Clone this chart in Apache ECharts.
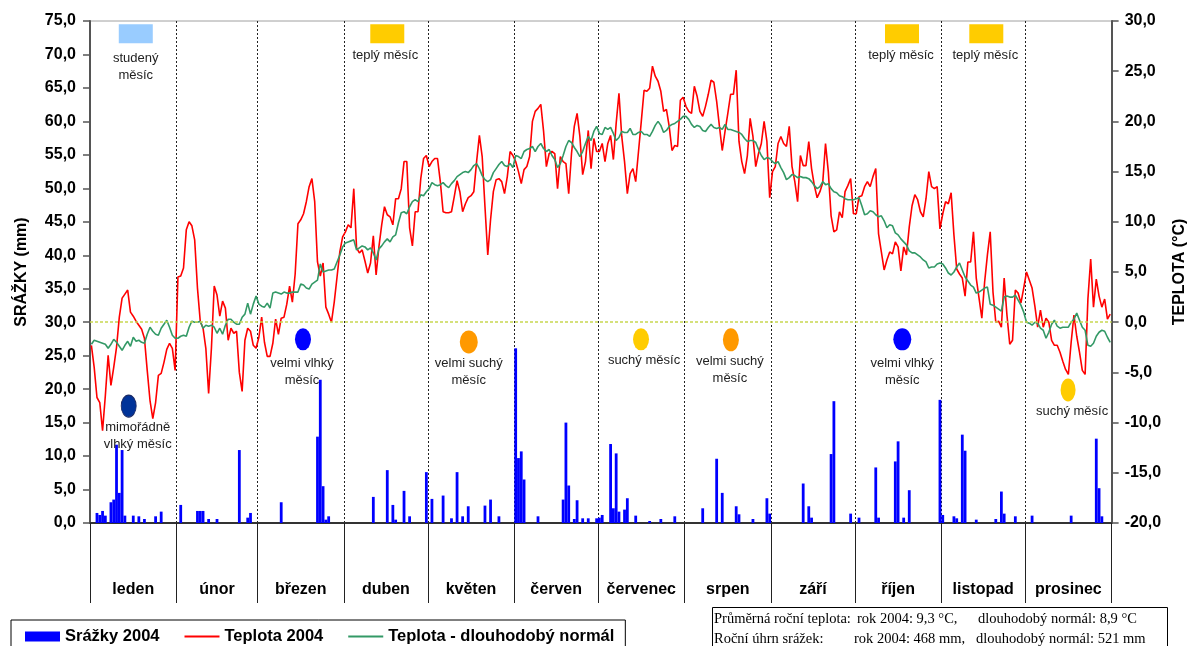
<!DOCTYPE html>
<html><head><meta charset="utf-8">
<script src="https://cdn.jsdelivr.net/npm/echarts@6/dist/echarts.min.js"></script>
<style>html,body{margin:0;padding:0;background:#fff}#c{width:1196px;height:646px}</style>
</head><body><div id="c"></div>
<script>
const monthNames = ['leden','únor','březen','duben','květen','červen','červenec','srpen','září','říjen','listopad','prosinec'];
const monthDays = [31,29,31,30,31,30,31,31,30,31,30,31];

// Daily precipitation 2004 (mm), one list per month
const precip2004 = [
 [0,0,1.5,1.2,1.8,1.1,0,3.1,3.5,11.7,4.5,10.9,1.1,0,0,1.1,0,1.0,0,0.6,0,0,0,1.0,0,1.7,0,0,0,0,0],
 [0,2.7,0,0,0,0,0,1.8,1.8,1.8,0,0.6,0,0,0.6,0,0,0,0,0,0,0,10.9,0,0,0.8,1.5,0,0],
 [0,0,0,0,0,0,0,0,3.1,0,0,0,0,0,0,0,0,0,0,0,0,12.9,21.4,5.5,0.5,1.0,0,0,0,0,0],
 [0,0,0,0,0,0,0,0,0,0,3.9,0,0,0,0,7.9,0,2.7,0.5,0,0,4.8,0,1.0,0,0,0,0,0,7.6],
 [0,3.6,0,0,0,4.1,0,0,0.7,0,7.6,0,1.0,0,2.5,0,0,0,0,0,2.6,0,3.5,0,0,1.0,0,0,0,0,0],
 [26.1,9.7,10.7,6.5,0,0,0,0,1.0,0,0,0,0,0,0,0,0,3.5,15.0,5.6,0,0.6,3.4,0,0.7,0,0.7,0,0,0.7],
 [0.8,1.2,0,0,11.8,2.2,10.4,1.7,0,2.0,3.7,0,0,1.1,0,0,0,0,0.3,0,0,0,0.6,0,0,0,0,1.0,0,0,0],
 [0,0,0,0,0,0,2.2,0,0,0,0,9.6,0,4.5,0,0,0,0,2.5,1.3,0,0,0,0,0.6,0,0,0,0,3.7,1.4],
 [0,0,0,0,0,0,0,0,0,0,0,5.9,0,2.5,0.8,0,0,0,0,0,0,10.3,18.2,0,0,0,0,0,1.4,0],
 [0,0.8,0,0,0,0,0,8.3,0.8,0,0,0,0,0,9.2,12.2,0,0.8,0,4.9,0,0,0,0,0,0,0,0,0,0,18.4],
 [1.2,0,0,0,1.0,0.7,0,13.2,10.8,0,0,0,0.5,0,0,0,0,0,0,0.6,0,4.7,1.4,0,0,0,1.0,0,0,0],
 [0,0,1.1,0,0,0,0,0,0,0,0,0,0,0,0,0,1.1,0,0,0,0,0,0,0,0,12.6,5.2,1.0,0,0,0]
];

// Daily mean temperature 2004 (°C)
const temp2004 = [
 [-2.3,-4.5,-7.5,-8.0,-10.8,-7.3,-3.3,-6.3,-4.5,-2.5,0.5,2.4,2.8,3.2,1.0,0.6,0.1,-0.3,-0.7,-1.6,-4.8,-7.8,-9.6,-8.0,-5.3,-5.1,-4.0,-2.7,-2.1,-2.6,-4.8],
 [4.5,4.6,5.4,9.2,10.0,9.6,8.2,3.4,0.1,-0.6,-2.6,-7.1,-2.6,3.6,2.7,0.6,2.1,1.4,-1.8,-0.6,-1.1,-0.9,-5.0,-6.9,-1.8,-0.6,-0.9,-2.3,-2.6],
 [-1.5,0.5,-2.0,-3.4,-3.4,-2.1,0.3,-1.2,0.4,0.5,1.8,3.6,2.0,4.8,9.8,10.2,10.8,12.0,13.5,14.3,12.0,6.0,4.6,5.9,1.5,0.8,0.0,2.0,4.5,7.0,8.5],
 [9.0,9.7,9.4,13.3,7.4,6.9,7.2,6.1,4.9,5.9,8.6,4.7,7.5,9.7,11.5,10.7,10.5,9.7,12.3,12.3,13.3,16.0,16.0,9.4,7.6,11.0,11.0,14.3,16.3,16.6],
 [15.5,16.0,16.3,16.3,14.0,11.0,10.9,10.9,11.0,12.5,14.1,13.0,11.0,11.8,12.4,12.6,13.0,16.0,18.6,16.5,11.5,6.7,10.2,13.0,14.2,14.3,14.0,12.8,14.5,17.0,16.6],
 [16.0,15.0,13.8,15.2,15.5,16.5,20.0,21.0,21.3,21.7,19.0,15.5,16.8,17.0,16.8,13.3,16.5,16.0,15.8,12.8,16.8,19.5,20.8,18.5,14.7,16.0,19.1,15.3,18.3,17.0],
 [17.0,17.8,16.0,17.8,18.6,16.2,19.8,22.8,18.5,16.0,12.8,14.8,15.3,14.0,17.0,20.0,23.1,23.0,23.3,25.5,24.5,24.0,23.0,21.0,21.2,19.5,17.1,17.6,17.5,22.1,22.4],
 [21.5,21.0,20.8,23.5,22.5,21.0,20.5,21.5,22.7,24.1,23.9,22.0,19.5,17.1,19.0,20.8,22.7,22.7,25.1,18.0,16.0,14.8,16.6,20.3,18.5,15.5,16.8,17.8,20.0,18.0,12.4],
 [15.0,15.5,17.8,18.5,17.8,17.5,19.5,15.5,14.0,12.0,16.6,15.6,15.6,18.0,15.3,13.6,12.4,13.0,13.9,17.8,15.0,10.6,9.0,9.2,11.0,10.4,13.0,13.6,14.3,10.8],
 [10.8,12.5,12.6,13.5,14.0,13.5,14.5,15.3,8.8,7.0,5.2,6.2,7.0,6.8,8.0,7.5,5.1,7.5,6.7,9.5,11.6,12.7,12.2,11.0,10.5,12.3,15.0,13.5,13.3,13.5,9.3],
 [10.8,12.0,11.8,12.9,8.7,5.3,4.8,4.4,2.6,6.0,6.0,9.0,4.4,2.4,0.4,4.0,6.7,9.0,3.0,0.0,0.1,-0.5,4.4,0.7,-2.2,-1.8,3.2,2.9,1.9,3.4],
 [5.0,4.2,3.4,1.6,-0.5,1.2,-0.5,0.4,0.0,-1.8,-2.3,-2.3,-3.0,-3.9,-4.7,-5.2,-2.0,0.7,-1.4,-3.0,-4.8,-5.2,2.3,6.3,1.5,4.3,2.6,1.5,2.3,0.3,0.8]
];

// Long-term normal of daily temperature (°C)
const tempNormal = [
 [-2.2,-1.8,-1.9,-2.0,-2.1,-2.2,-2.6,-2.2,-1.7,-2.0,-2.4,-2.8,-2.3,-1.9,-2.4,-1.5,-1.9,-1.8,-2.0,-2.1,-1.2,-0.5,-0.9,-1.2,-1.3,-0.6,-0.2,0.2,-0.5,-1.3,-1.6],
 [-1.6,-1.4,-1.3,-1.4,-0.5,0.1,0.0,0.0,0.1,-0.6,-0.3,-0.4,-0.3,-0.5,-1.1,-0.6,-1.2,-0.3,0.3,0.3,0.0,-0.2,-0.2,0.5,0.8,1.9,0.8,1.8,2.6],
 [1.8,1.6,1.5,1.9,1.4,2.9,3.0,2.9,2.8,3.0,2.9,2.9,3.0,3.0,3.0,3.8,3.7,3.4,3.3,3.8,4.0,4.2,5.8,5.0,5.1,5.2,5.2,5.3,6.0,6.7,7.5],
 [7.9,8.0,8.1,8.2,7.2,7.4,7.6,7.5,7.2,7.4,6.9,6.2,7.3,7.6,8.0,8.3,8.0,8.5,8.7,9.9,10.9,11.0,10.8,11.5,12.0,12.2,12.0,12.7,12.6,13.0],
 [13.3,13.9,13.7,13.6,13.7,13.9,13.6,13.4,13.8,14.1,14.5,14.7,14.9,15.0,14.9,15.2,15.6,15.8,15.3,14.6,14.2,14.0,14.2,14.9,15.3,15.7,16.0,15.6,15.5,15.8,15.4],
 [16.6,16.5,16.3,17.0,17.2,17.3,17.5,17.0,17.5,17.8,17.3,17.0,17.2,16.6,16.2,15.4,15.8,16.6,17.5,18.1,17.9,17.4,17.0,16.5,17.0,17.8,18.5,18.1,19.0,19.5],
 [18.8,18.7,19.4,19.2,19.4,18.8,18.1,18.4,19.0,18.9,18.9,19.3,18.7,18.7,18.9,19.0,18.7,18.7,18.5,19.0,19.6,20.0,19.6,18.9,19.1,19.5,19.7,19.8,20.0,20.2,20.5],
 [20.5,20.2,19.7,19.4,19.6,19.5,19.1,19.0,19.4,19.7,19.4,19.3,19.4,19.2,19.7,19.2,19.2,19.1,19.0,18.9,18.7,18.3,18.0,18.1,18.1,17.9,17.2,16.6,16.2,16.4,16.3],
 [16.0,15.8,16.0,15.4,14.9,14.2,14.4,14.7,14.6,14.4,14.5,14.4,14.4,14.3,14.0,13.6,13.3,13.5,14.0,13.7,13.8,13.3,13.0,12.9,12.6,12.5,12.3,12.2,12.2,12.2],
 [12.3,12.4,11.6,10.7,10.8,11.1,11.0,10.7,10.5,10.6,10.1,9.4,9.7,9.6,8.9,8.7,8.3,8.0,7.7,7.1,6.9,6.9,6.7,6.5,6.2,6.0,5.4,5.5,5.5,5.8,5.9],
 [5.8,5.4,4.9,4.7,5.0,5.5,5.9,5.2,4.5,4.1,3.7,3.5,2.9,3.0,3.2,3.4,3.5,1.8,1.7,1.5,1.3,1.1,2.5,2.6,2.5,2.5,2.7,2.2,1.7,1.0],
 [0.0,-0.1,-0.3,0.0,-0.1,-0.6,-0.8,-1.6,-1.0,-0.2,0.2,-0.4,-0.6,-0.5,-0.5,-0.5,0.0,0.3,0.9,0.2,-0.5,-0.8,-2.3,-2.4,-2.1,-1.4,-1.0,-0.8,-0.9,-1.5,-2.0]
];

// Month characteristic markers: position in days from 1 Jan and in °C
const annotationDay  = [16.4, 106.5, 290.9, 321.1, 13.86, 76.3, 135.7, 197.4, 229.6, 291.0, 350.4];
const annotationTemp = [28.72, 28.72, 28.72, 28.72, -8.35, -1.71, -1.96, -1.71, -1.76, -1.71, -6.75];
const annotationText = ['studený\nměsíc','teplý měsíc','teplý měsíc','teplý měsíc','mimořádně\nvlhký měsíc','velmi vlhký\nměsíc','velmi suchý\nměsíc','suchý měsíc','velmi suchý\nměsíc','velmi vlhký\nměsíc','suchý měsíc'];

const summaryLines = [
  ['Průměrná roční teplota:', 'rok 2004: 9,3 °C,', 'dlouhodobý normál: 8,9 °C'],
  ['Roční úhrn srážek:', 'rok 2004: 468 mm,', 'dlouhodobý normál: 521 mm']
];

const precipAxis = {min: 0, max: 75, interval: 5};
const tempAxis = {min: -20, max: 30, interval: 5};

// ---- build ----
const flat = a => a.reduce((r, m) => r.concat(m), []);
const dayLabels = [];
monthDays.forEach((n, m) => { for (let d = 1; d <= n; d++) dayLabels.push(d + '.' + (m + 1) + '.'); });
const monthBounds = [0];
monthDays.forEach(n => monthBounds.push(monthBounds[monthBounds.length - 1] + n));
const monthMids = monthDays.map((n, i) => monthBounds[i] + n / 2);
const startSet = new Set(monthBounds.slice(0, 12));

const FONT = '"Liberation Sans", Arial, sans-serif';
const SERIF = '"Liberation Serif", "Times New Roman", serif';
const fmt = v => v.toFixed(1).replace('.', ',');
const LINE_ICON = 'path://M0,0 M0,4 L36,4 L36,6 L0,6 Z M36,10';

// styles for the annotation markers
const annStyle = [
  {symbol:'rect', size:[34,19], color:'#99ccff', dx:0, gap:6.5},
  {symbol:'rect', size:[34,19], color:'#ffcc00', dx:-2, gap:4},
  {symbol:'rect', size:[34,19], color:'#ffcc00', dx:-1, gap:4},
  {symbol:'rect', size:[34,19], color:'#ffcc00', dx:-1, gap:4},
  {symbol:'circle', size:[15,22], color:'#003399', border:'#1a2a66', dx:9, gap:1.5},
  {symbol:'circle', size:[16,22], color:'#0000ff', dx:-1, gap:5},
  {symbol:'circle', size:[18,23], color:'#ff9900', dx:0, gap:1.5},
  {symbol:'circle', size:[16,22], color:'#ffcc00', dx:3, gap:1.5},
  {symbol:'circle', size:[16,23], color:'#ff9900', dx:-1, gap:2},
  {symbol:'circle', size:[18,22], color:'#0000ff', dx:0, gap:5},
  {symbol:'circle', size:[15,23], color:'#ffcc00', dx:4, gap:1.5}
];
const annData = annotationDay.map((d, i) => {
  const s = annStyle[i];
  return {
    value: [d, annotationTemp[i]],
    symbol: s.symbol, symbolSize: s.size,
    itemStyle: {color: s.color, opacity: 1, borderColor: s.border || s.color, borderWidth: s.border ? 1 : 0},
    label: {show: true, position: 'bottom', distance: s.gap, offset: [s.dx, 0],
      formatter: annotationText[i], fontFamily: FONT, fontSize: 13, lineHeight: 17, color: '#222'}
  };
});

const graphics = [{type:'rect', shape:{x:712.5, y:607.5, width:455, height:60}, style:{fill:'#fff', stroke:'#000', lineWidth:1}, z:10}];
const colX = [[714, 857, 978], [714, 854, 976]];
summaryLines.forEach((line, r) => line.forEach((t, c) => {
  graphics.push({type:'text', x: colX[r][c], y: 619 + r * 20, z: 11,
    style:{text: t, font: '14.5px ' + SERIF, fill:'#000', textVerticalAlign:'middle'}});
}));

const chart = echarts.init(document.getElementById('c'), null, {renderer:'canvas'});
chart.setOption({
  animation: false,
  backgroundColor: '#fff',
  grid: {left: 90, right: 84, top: 21, bottom: 123, show: true, borderColor: '#a0a0a0', borderWidth: 1},
  xAxis: [{
    type: 'category', data: dayLabels, boundaryGap: true, position: 'top',
    axisLine: {show: false}, axisTick: {show: false}, axisLabel: {show: false},
    splitLine: {show: true, interval: (i) => startSet.has(i), lineStyle: {color: '#222', type: [2, 2], width: 1}}
  }, {
    type: 'value', min: 0, max: 366, position: 'bottom',
    axisLine: {show: true, onZero: false, lineStyle: {color: '#333', width: 2}},
    axisTick: {show: true, customValues: monthBounds, length: 80, lineStyle: {color: '#222', width: 1}},
    axisLabel: {customValues: monthMids, formatter: v => monthNames[monthMids.indexOf(v)], margin: 59,
      fontFamily: FONT, fontSize: 16, fontWeight: 'bold', color: '#000'},
    splitLine: {show: false}
  }],
  yAxis: [{
    type: 'value', position: 'left', min: precipAxis.min, max: precipAxis.max, interval: precipAxis.interval,
    name: 'SRÁŽKY (mm)', nameLocation: 'middle', nameRotate: 90, nameGap: 60,
    nameTextStyle: {fontFamily: FONT, fontSize: 16, fontWeight: 'bold', color: '#000'},
    axisLine: {show: true, lineStyle: {color: '#555', width: 2}},
    axisTick: {show: true, length: 7, lineStyle: {color: '#555', width: 1.5}},
    axisLabel: {formatter: fmt, margin: 14, fontFamily: FONT, fontSize: 16, fontWeight: 'bold', color: '#000'},
    splitLine: {show: false}
  }, {
    type: 'value', position: 'right', min: tempAxis.min, max: tempAxis.max, interval: tempAxis.interval,
    name: 'TEPLOTA (°C)', nameLocation: 'middle', nameRotate: 90, nameGap: 57,
    nameTextStyle: {fontFamily: FONT, fontSize: 16, fontWeight: 'bold', color: '#000'},
    axisLine: {show: true, lineStyle: {color: '#555', width: 2}},
    axisTick: {show: true, length: 7, lineStyle: {color: '#555', width: 1.5}},
    axisLabel: {formatter: fmt, margin: 13, fontFamily: FONT, fontSize: 16, fontWeight: 'bold', color: '#000'},
    splitLine: {show: false}
  }],
  legend: {
    left: 11, top: 620, itemGap: 25, itemWidth: 35, itemHeight: 10,
    padding: [8, 11, 10, 14], borderColor: '#000', borderWidth: 1, backgroundColor: '#fff',
    textStyle: {fontFamily: FONT, fontSize: 16.5, fontWeight: 'bold', color: '#000'},
    data: [{name: 'Srážky 2004', icon: 'rect'},
           {name: 'Teplota 2004', icon: LINE_ICON},
           {name: 'Teplota - dlouhodobý normál', icon: LINE_ICON}]
  },
  graphic: graphics,
  series: [{
    name: 'Srážky 2004', type: 'bar', xAxisIndex: 0, yAxisIndex: 0,
    data: flat(precip2004), barCategoryGap: '0%', itemStyle: {color: '#0000ff'}, silent: true
  }, {
    name: 'Teplota 2004', type: 'line', xAxisIndex: 0, yAxisIndex: 1,
    data: flat(temp2004), symbol: 'none', lineStyle: {color: '#ff0000', width: 1.6}, itemStyle: {color: '#ff0000'}, silent: true,
    markLine: {silent: true, symbol: 'none', label: {show: false},
      lineStyle: {color: '#c8d850', type: [3, 2], width: 1.5}, data: [{yAxis: 0}]}
  }, {
    name: 'Teplota - dlouhodobý normál', type: 'line', xAxisIndex: 0, yAxisIndex: 1,
    data: flat(tempNormal), symbol: 'none', lineStyle: {color: '#339966', width: 1.6}, itemStyle: {color: '#339966'}, silent: true
  }, {
    name: 'annotations', type: 'scatter', xAxisIndex: 1, yAxisIndex: 1, silent: true, clip: false,
    data: annData, z: 5
  }]
});
</script></body></html>
